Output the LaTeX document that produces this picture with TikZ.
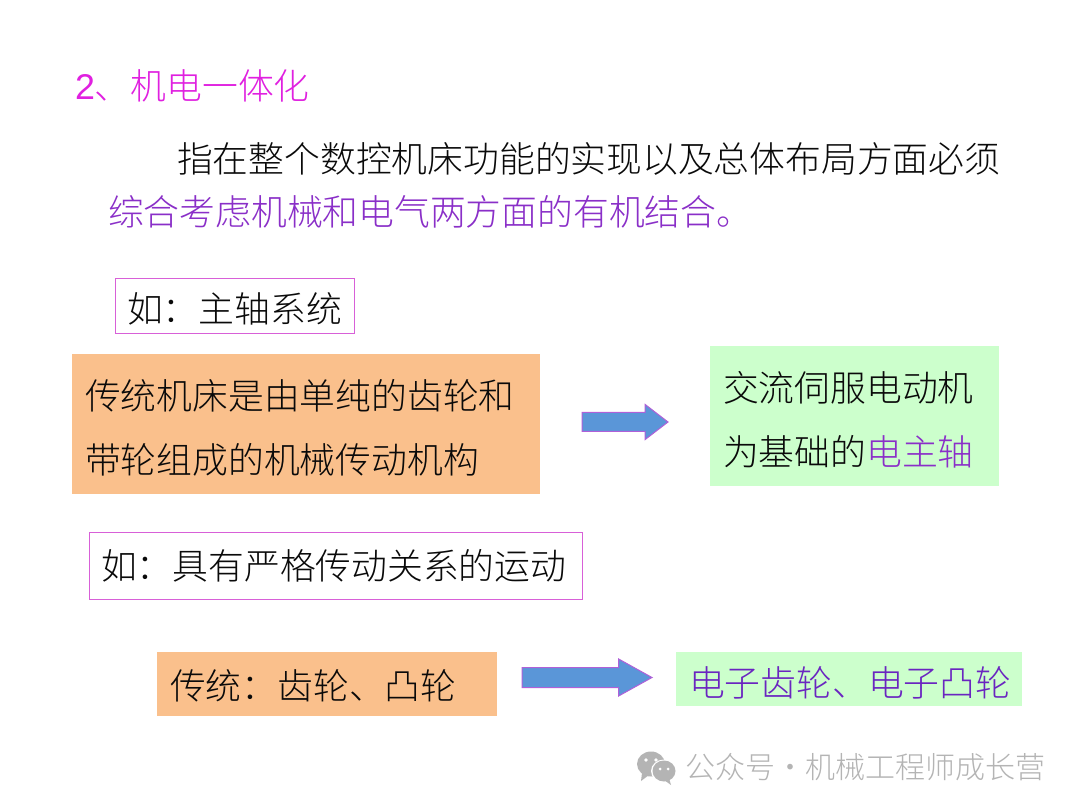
\documentclass[tikz,border=0pt]{standalone}
\usepackage{fontspec}
\setmainfont{Noto Sans CJK SC}[UprightFont=* Light]
\newfontfamily\latinfont{Liberation Sans}
\usetikzlibrary{shapes.arrows}
\definecolor{titlepink}{HTML}{E020E0}
\definecolor{emph}{HTML}{8A2FC8}
\definecolor{emphb}{HTML}{6A25C0}
\definecolor{boxpink}{HTML}{D860D8}
\definecolor{orangefill}{HTML}{FAC08C}
\definecolor{greenfill}{HTML}{CCFFCC}
\definecolor{arrowblue}{HTML}{5A96D8}
\definecolor{arrowedge}{HTML}{B060D8}
\definecolor{wm}{HTML}{B4B4B4}
\definecolor{ink}{HTML}{0A0A0A}
\newcommand{\lowerstrut}{\rule{0pt}{37.5pt}}
\newcommand{\halfstrut}{\rule{0pt}{34.5pt}}
\tikzset{
  x=1pt,y=-1pt,
  body/.style={inner sep=0pt,outer sep=0pt,anchor=west,text=ink,font=\fontsize{35.8}{36}\selectfont},
  framed/.style={body,draw=boxpink,line width=0.9pt,anchor=north west},
  panel/.style={body,anchor=north west,font=\fontsize{35.8}{64.5}\selectfont,align=left},
  orangepanel/.style={panel,fill=orangefill},
  greenpanel/.style={panel,fill=greenfill},
  blockarrow/.style={single arrow,draw=arrowedge,fill=arrowblue,line width=1pt,inner sep=0pt,outer sep=0pt,anchor=tail},
}
\begin{document}
\begin{tikzpicture}
\useasboundingbox (0,0) rectangle (1080,810);
\fill[white] (0,0) rectangle (1080,810);
\node[body,text=titlepink] (title) at (75,85.5) {{\latinfont 2}、机电一体化};
\node[body] (line1) at (177,159) {指在整个数控机床功能的实现以及总体布局方面必须};
\node[body,text=emph] (line2) at (108,212) {综合考虑机械和电气两方面的有机结合。};
\node[framed,minimum width=239,minimum height=55,text width=215,inner xsep=12] (ex1) at (115,278) {\lowerstrut 如：主轴系统};
\node[orangepanel,minimum width=468,minimum height=140,text width=442,inner xsep=13] (old1) at (72,354) {\lowerstrut 传统机床是由单纯的齿轮和\\带轮组成的机械传动机构};
\node[greenpanel,minimum width=289,minimum height=140,text width=263,inner xsep=13] (new1) at (710,346) {\lowerstrut 交流伺服电动机\\为基础的\textcolor{emph}{电主轴}};
\node[blockarrow,minimum height=86,minimum width=34,single arrow head extend=8,single arrow tip angle=75,text height=18,text depth=0,text width=0] (arrow1) at (582,422) {};
\node[framed,minimum width=493,minimum height=67,text width=469,inner xsep=12] (ex2) at (89,532) {如：具有严格传动关系的运动};
\node[orangepanel,minimum width=340,minimum height=64,text width=314,inner xsep=13] (old2) at (157,652) {\halfstrut 传统：齿轮、凸轮};
\node[greenpanel,text=emphb,minimum width=346,minimum height=54,text width=320,inner xsep=13] (new2) at (676,652) {\lowerstrut 电子齿轮、电子凸轮};
\node[blockarrow,minimum height=130,minimum width=36,single arrow head extend=8.5,single arrow tip angle=58,text height=19,text depth=0,text width=0] (arrow2) at (522,677.5) {};
\node[inner sep=0pt,anchor=west,text=wm,font=\fontsize{30}{30}\selectfont] (mark) at (685,767) {公众号·机械工程师成长营};
% WeChat logo
\fill[wm] (651,764) ellipse [x radius=14,y radius=12.5];
\fill[wm] (642,773) -- (641,781) -- (649,775) -- cycle;
\fill[white] (664,771) ellipse [x radius=13,y radius=11.5];
\fill[wm] (664,771) ellipse [x radius=11.5,y radius=10.5];
\fill[wm] (669,778) -- (671,785) -- (664,780) -- cycle;
\fill[white] (646,760) circle (1.8) (656,760) circle (1.8) (660,769) circle (1.5) (668,769) circle (1.5);
\end{tikzpicture}
\end{document}
